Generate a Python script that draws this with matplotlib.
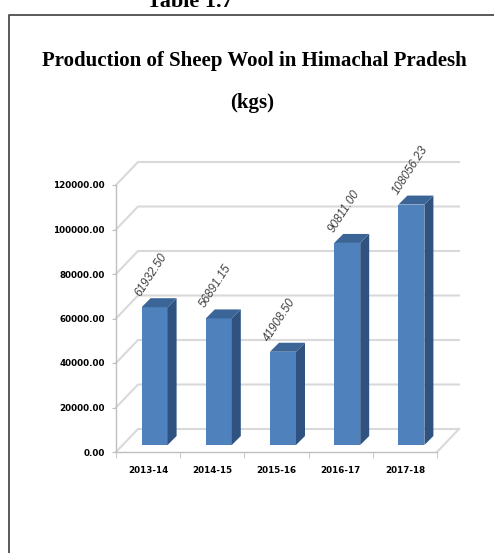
import matplotlib
matplotlib.use("Agg")
import matplotlib.pyplot as plt
from matplotlib.patches import Polygon
from matplotlib.lines import Line2D

# data
years = ["2013-14", "2014-15", "2015-16", "2016-17", "2017-18"]
wool_kg = [61932.50, 56891.15, 41908.50, 90811.00, 108056.23]
y_ticks = [0, 20000, 40000, 60000, 80000, 100000, 120000]

W, H, DPI = 494, 553, 100
FRONT, SIDE, TOP = "#4f81bd", "#2f5281", "#3b6597"
GRID, AXIS = "#d9d9d9", "#bfbfbf"
NARROW = ["Liberation Sans Narrow", "DejaVu Sans"]

fig = plt.figure(figsize=(W / DPI, H / DPI), dpi=DPI)
fig.patch.set_facecolor("white")

# outer frame (page box) and the cut-off caption above it
fig.add_artist(Line2D([9 / W, 9 / W, 1], [0, 1 - 15 / H, 1 - 15 / H],
                      transform=fig.transFigure, color="#4d4d4d", lw=1.3))
fig.text(190 / W, 1 - 7 / H, "Table 1.7", ha="center", va="baseline",
         fontsize=16, fontweight="bold", family="Liberation Serif")

fig.text(254 / W, 1 - 61 / H, "Production of Sheep Wool in Himachal Pradesh",
         ha="center", va="center", fontsize=15, fontweight="bold",
         family="Liberation Serif")
fig.text(252 / W, 1 - 103 / H, "(kgs)", ha="center", va="center",
         fontsize=15, fontweight="bold", family="Liberation Serif")

ax = fig.add_axes([116 / W, 1 - 452 / H, 321 / W, 267 / H])
x = list(range(len(years)))
ax.set_xlim(-0.5, len(years) - 0.5)
ax.set_ylim(y_ticks[0], y_ticks[-1])

# pixel sizes in data units, for the fake 3d depth
px_x = len(years) / 321
px_y = (y_ticks[-1] - y_ticks[0]) / 267
wall_dx, wall_dy = 22 * px_x, 23 * px_y      # back wall offset
bar_dx, bar_dy = 6.5 * px_x, 7 * px_y        # bar plane offset
dep_x, dep_y = 9 * px_x, 9 * px_y            # bar depth
bw = 26 * px_x

x0, x1 = -0.5, len(years) - 0.5
for v in y_ticks:
    ax.plot([x0, x0 + wall_dx, x1 + wall_dx], [v, v + wall_dy, v + wall_dy],
            color=GRID, lw=1.5, clip_on=False, zorder=1)
ax.plot([x1, x1 + wall_dx], [0, wall_dy], color=GRID, lw=1.5, clip_on=False, zorder=1)

xs = [i + bar_dx for i in x]
ax.bar(xs, wool_kg, width=bw, bottom=bar_dy, color=FRONT, zorder=3, clip_on=False)
for xc, v in zip(xs, wool_kg):
    r, l = xc + bw / 2, xc - bw / 2
    top = v + bar_dy
    ax.add_patch(Polygon([(r, bar_dy), (r, top), (r + dep_x, top + dep_y), (r + dep_x, bar_dy + dep_y)],
                         closed=True, facecolor=SIDE, edgecolor="none", zorder=3, clip_on=False))
    ax.add_patch(Polygon([(l, top), (r, top), (r + dep_x, top + dep_y), (l + dep_x, top + dep_y)],
                         closed=True, facecolor=TOP, edgecolor="none", zorder=3, clip_on=False))
    ax.text(l - 1 * px_x, top + 10 * px_y, f"{v:.2f}", rotation=57, rotation_mode="anchor",
            ha="left", va="baseline", fontsize=8.5, style="italic", color="#404040",
            family="Liberation Sans", zorder=4, clip_on=False)

for s in ["top", "right"]:
    ax.spines[s].set_visible(False)
for s in ["left", "bottom"]:
    ax.spines[s].set_color(AXIS)
    ax.spines[s].set_linewidth(1.0)
ax.set_facecolor("none")

ax.set_yticks(y_ticks)
ax.set_yticklabels([f"{v:.2f}" for v in y_ticks], family=NARROW, fontweight="bold", fontsize=6.3)
ax.set_xticks(x)
ax.set_xticklabels(years, family=NARROW, fontweight="bold", fontsize=6.3)
ax.set_xticks([i - 0.5 for i in range(len(years) + 1)], minor=True)
ax.tick_params(axis="y", length=3, color=AXIS, pad=5)
ax.tick_params(axis="x", which="major", length=0, pad=10)
ax.tick_params(axis="x", which="minor", length=4, color=AXIS)

fig.savefig("out.png", dpi=DPI)
